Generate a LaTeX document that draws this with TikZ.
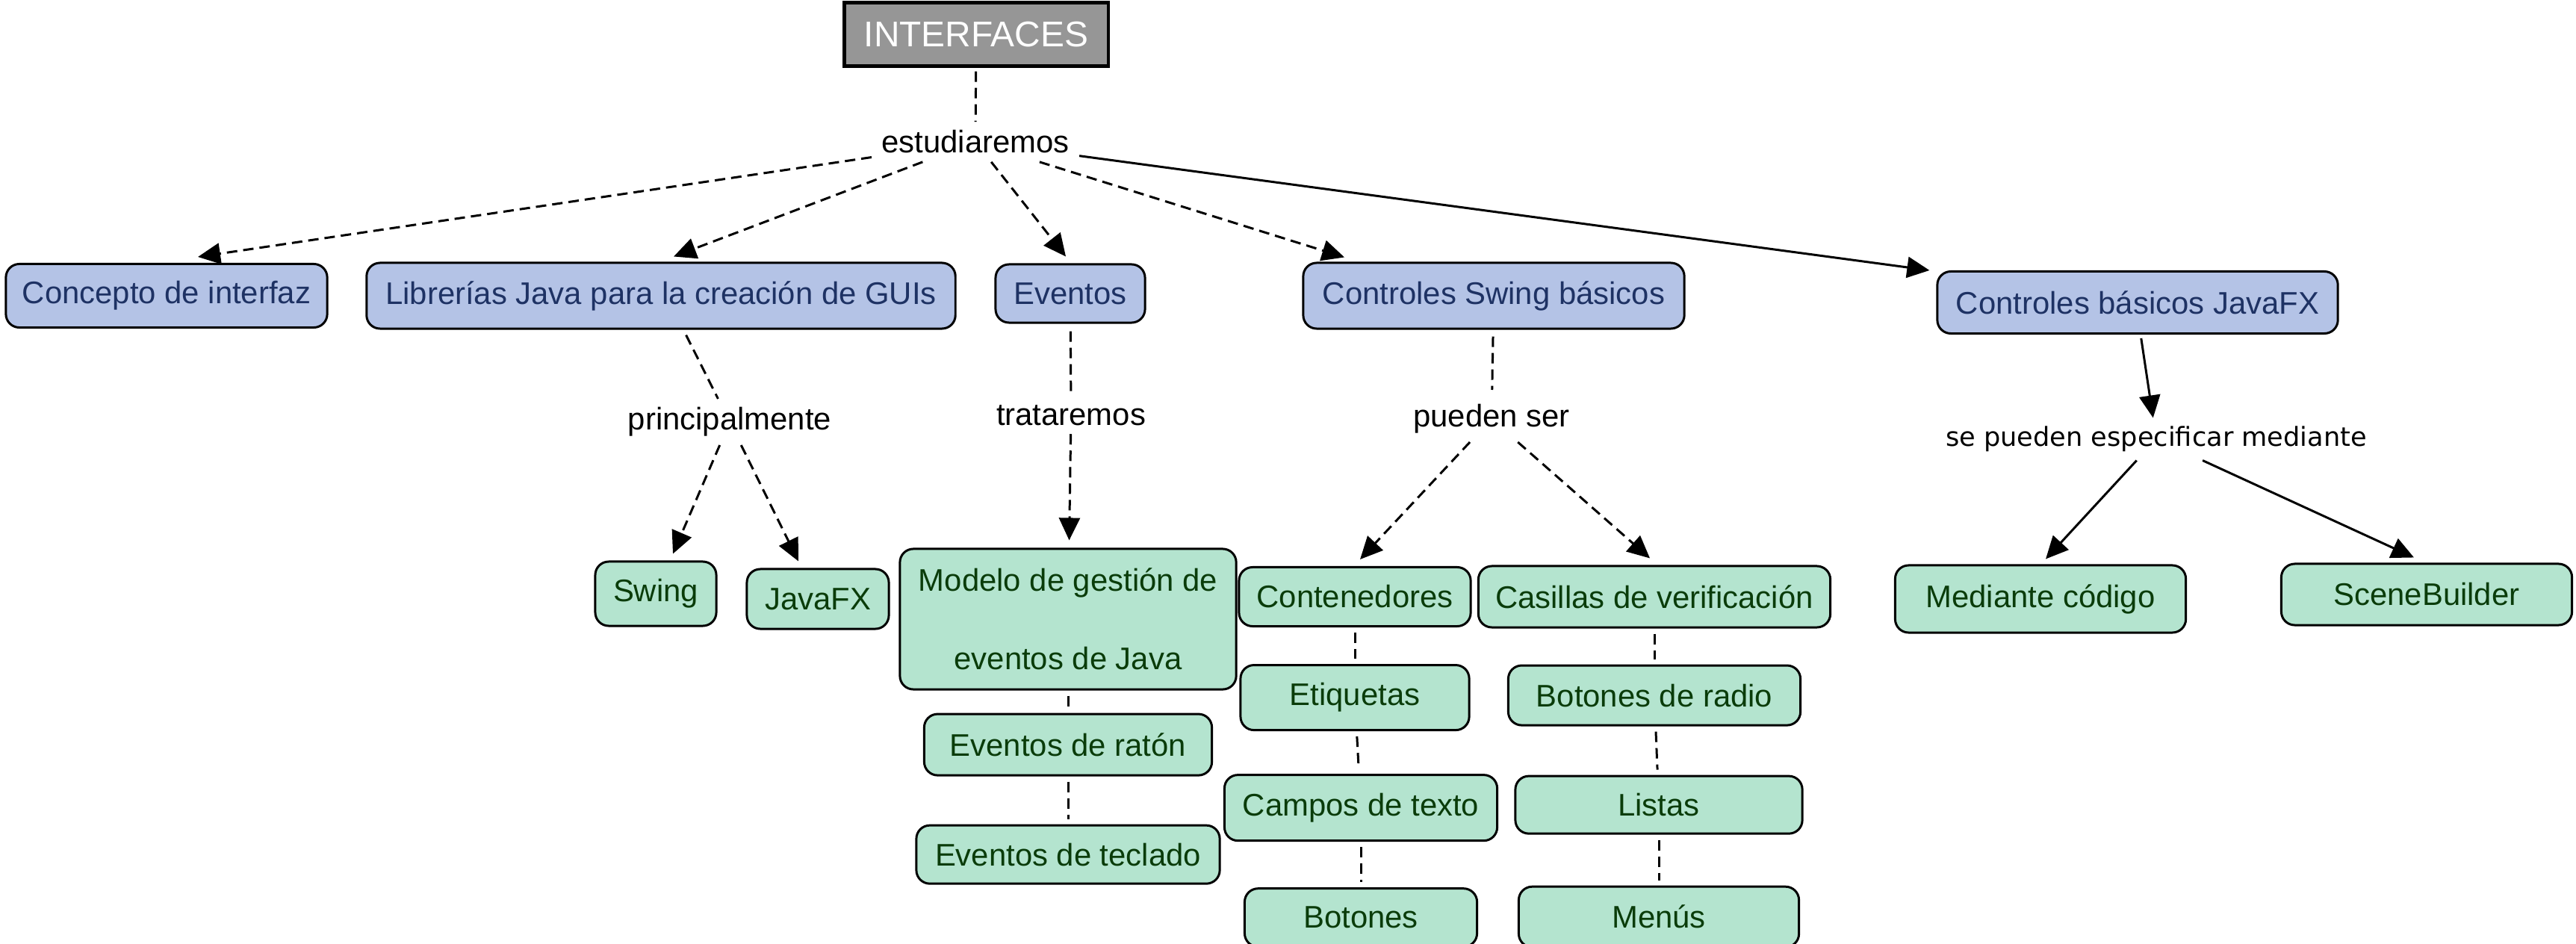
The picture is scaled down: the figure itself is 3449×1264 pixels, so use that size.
\documentclass[tikz,border=0pt]{standalone}
\usepackage{fontspec}
\setmainfont{Liberation Sans}
\newfontfamily\dejavu{DejaVu Sans}
\usetikzlibrary{arrows.meta,positioning}

\definecolor{rootgray}{RGB}{150,150,150}
\definecolor{mainfill}{RGB}{180,195,230}
\definecolor{maintext}{RGB}{30,50,100}
\definecolor{leaffill}{RGB}{180,228,207}
\definecolor{leaftext}{RGB}{10,60,10}

\begin{document}
\begin{tikzpicture}[x=0.01cm,y=-0.01cm,>={Triangle[length=0.3cm,width=0.28cm]},line width=0.85pt,
	root node/.style={draw,line width=1.2pt,fill=rootgray,text=white,font=\fontsize{13.6}{16}\selectfont,minimum width=3.53cm,minimum height=0.85cm},
	main node/.style={draw,rounded corners=0.18cm,fill=mainfill,text=maintext,font=\fontsize{11.9}{14}\selectfont,inner xsep=0.22cm,minimum height=0.85cm},
	leaf node/.style={draw,rounded corners=0.18cm,fill=leaffill,text=leaftext,font=\fontsize{11.9}{14}\selectfont,inner xsep=0.22cm,minimum height=0.8cm},
	link label/.style={font=\fontsize{11.9}{14}\selectfont,inner xsep=0.12cm,inner ysep=0.1cm},
	dashlink/.style={dash pattern=on 0.14cm off 0.08cm},
	stack/.style={dashlink,shorten <=0.07cm,shorten >=0.07cm}]
	\useasboundingbox (0,0) rectangle (3449,1264);
	
	\node[root node] (top) at (1307,46) {INTERFACES};
	\node[link label] (est) at (1306,190) {estudiaremos};
	
	\node[main node,minimum width=4.30cm] (cint) at (223,396) {Concepto de interfaz};
	\node[main node,minimum width=7.88cm,minimum height=0.88cm] (lib) at (885,396) {Librerías Java para la creación de GUIs};
	\node[main node,minimum width=2.00cm,minimum height=0.78cm] (evt) at (1433,393) {Eventos};
	\node[main node,minimum width=5.10cm,minimum height=0.88cm] (csw) at (2000,396) {Controles Swing básicos};
	\node[main node,minimum width=5.36cm,minimum height=0.83cm] (cfx) at (2862,405) {Controles básicos JavaFX};
	
	\node[link label] (ppal) at (977,565) {principalmente};
	\node[link label] (trat) at (1434,556) {trataremos};
	\node[link label] (pued) at (1997,561) {pueden ser};
	\node[link label,font=\dejavu\fontsize{10}{12}\selectfont] (sepu) at (2887,588) {se pueden especificar mediante};
	
	\node[leaf node,minimum width=1.62cm,minimum height=0.86cm] (swing) at (878,795) {Swing};
	\node[leaf node,minimum width=1.90cm] (jfx) at (1095,802) {JavaFX};
	
	\node[leaf node,minimum width=4.50cm,minimum height=1.88cm,align=center,font=\fontsize{11.9}{29.9}\selectfont] (modelo) at (1430,829) {Modelo de gestión de\\eventos de Java};
	\node[leaf node,minimum width=3.85cm,minimum height=0.82cm] (raton) [below=0.30cm of modelo] {Eventos de ratón};
	\node[leaf node,minimum width=4.06cm,minimum height=0.78cm] (teclado) [below=0.64cm of raton] {Eventos de teclado};
	
	\node[leaf node,minimum width=3.10cm,minimum height=0.79cm] (cont) at (1814,799) {Contenedores};
	\node[leaf node,minimum width=3.06cm,minimum height=0.87cm] (etiq) [below=0.49cm of cont] {Etiquetas};
	\node[leaf node,minimum width=3.65cm,minimum height=0.88cm] (campos) [below=0.57cm of etiq,xshift=0.08cm] {Campos de texto};
	\node[leaf node,minimum width=3.11cm,minimum height=0.78cm] (botones) [below=0.61cm of campos] {Botones};
	
	\node[leaf node,minimum width=4.71cm,minimum height=0.82cm] (cas) at (2215,799) {Casillas de verificación};
	\node[leaf node,minimum width=3.91cm] (radio) [below=0.48cm of cas] {Botones de radio};
	\node[leaf node,minimum width=3.84cm,minimum height=0.77cm] (listas) [below=0.65cm of radio,xshift=0.06cm] {Listas};
	\node[leaf node,minimum width=3.75cm,minimum height=0.81cm] (menus) [below=0.68cm of listas] {Menús};
	
	\node[leaf node,minimum width=3.89cm,minimum height=0.90cm] (mcod) at (2732,802) {Mediante código};
	\node[leaf node,minimum width=3.89cm,minimum height=0.82cm] (sb) at (3249,796) {SceneBuilder};
	
	\path
	(top) edge[dashlink,shorten <=0.05cm] (est)
	(est) edge[dashlink,->] ([shift={(42,-8)}]cint.north)
	(est) edge[dashlink,->] ([shift={(17,-7)}]lib.north)
	(est) edge[dashlink,->] ([shift={(-6,-9)}]evt.north)
	(est) edge[dashlink,->] ([shift={(-200,-6)}]csw.north)
	(est) edge[->] ([shift={(-9,0)}]cfx.north west)
	([shift={(30,0)}]lib.south) edge[dashlink,shorten <=0.08cm] (ppal)
	(ppal) edge[dashlink,->] ([shift={(23,-9)}]swing.north)
	(ppal) edge[dashlink,->] ([shift={(-26,-9)}]jfx.north)
	(evt) edge[dashlink,shorten <=0.1cm] (trat)
	(trat) edge[dashlink,->,shorten >=0.1cm] (modelo)
	(modelo) edge[stack] (raton)
	(raton) edge[stack] (teclado)
	(csw) edge[dashlink,shorten <=0.09cm,shorten >=0.08cm] (pued)
	(pued) edge[dashlink,->] ([shift={(7,-9)}]cont.north)
	(pued) edge[dashlink,->] ([shift={(-6,-9)}]cas.north)
	(cont) edge[stack] (etiq)
	(etiq) edge[stack] (campos)
	(campos) edge[stack] (botones)
	(cas) edge[stack] (radio)
	(radio) edge[stack] (listas)
	(listas) edge[stack] (menus)
	([shift={(4,0)}]cfx.south) edge[->,shorten <=0.05cm] (sepu)
	(sepu) edge[->] ([shift={(7,-7)}]mcod.north)
	(sepu) edge[->] ([shift={(-17,-7)}]sb.north);
\end{tikzpicture}
\end{document}
